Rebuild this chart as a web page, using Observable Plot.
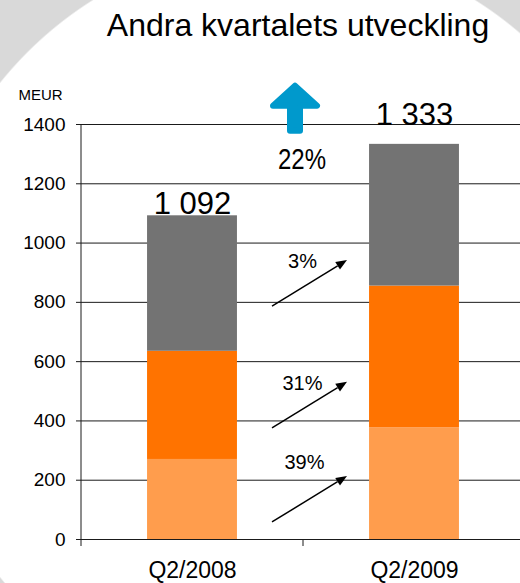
<!DOCTYPE html>
<html><head><meta charset="utf-8">
<script src="https://cdn.jsdelivr.net/npm/d3@7"></script>
<script src="https://cdn.jsdelivr.net/npm/@observablehq/plot@0.6"></script>
<style>
html,body{margin:0;padding:0;background:#fff;overflow:hidden}
#wrap{position:relative;width:520px;height:583px;overflow:hidden;
 background: radial-gradient(371px 386px at 284px 330px, #fff 99.6%, #d9d9d9 100%);
 font-family:"Liberation Sans", Arial, sans-serif;}
#title{height:50px;line-height:50px;font-size:32px;color:#000;text-align:center;padding-left:76px;box-sizing:border-box;white-space:nowrap}
#chart svg{display:block}
</style></head><body>
<div id="wrap"><div id="title">Andra kvartalets utveckling</div><div id="chart"></div></div>
<script>
// ---- data ----
const quarters = ["Q2/2008", "Q2/2009"];
const segments = ["Del 1", "Del 2", "Del 3"]; // bottom to top
const valuesQ2_2008 = [270, 365, 457];
const valuesQ2_2009 = [377, 478, 478];
const totals = [1092, 1333];
const growthLabels = ["39%", "31%", "3%"]; // per segment, bottom to top
const totalGrowthLabel = "22%";
const yTicks = [0, 200, 400, 600, 800, 1000, 1200, 1400];
const unit = "MEUR";
const colors = ["#ff9d4d", "#ff7300", "#737373"];

// ---- derived tables ----
const rows = [];
[valuesQ2_2008, valuesQ2_2009].forEach((vals, i) => {
  let acc = 0;
  vals.forEach((v, j) => {
    rows.push({quarter: quarters[i], i, segment: segments[j], y1: acc, y2: acc + v});
    acc += v;
  });
});
const fmt = v => String(v).replace(/\B(?=(\d{3})+(?!\d))/g, " ");
const totalRows = totals.map((t, i) => ({i, total: t, label: fmt(t)}));
const growthRows = growthLabels.map((g, j) => {
  const r = rows.find(d => d.i === 0 && d.segment === segments[j]);
  return {label: g, mid: (r.y1 + r.y2) / 2};
});
const halfBar = 0.2025;
const font = "Liberation Sans, Arial, sans-serif";

// decorative marks drawn through the plot's scales
function axisLines(index, {x, y}) {
  const g = d3.create("svg:g").attr("stroke", "#1a1a1a").attr("stroke-width", 1);
  const x0 = x(-0.5), yb = y(0);
  g.append("line").attr("x1", x0).attr("x2", x0).attr("y1", y(yTicks[yTicks.length - 1])).attr("y2", yb + 7);
  g.append("line").attr("x1", x(0.5)).attr("x2", x(0.5)).attr("y1", yb).attr("y2", yb + 7);
  return g.node();
}
function growthArrows(index, {x, y}) {
  const g = d3.create("svg:g");
  const gx = x(0.5);
  growthRows.forEach(r => {
    const ym = y(r.mid);
    const x1 = gx - 31, y1 = ym + 23, x2 = gx + 44, y2 = ym - 23;
    const a = Math.atan2(y2 - y1, x2 - x1);
    const L = 11, W = 4.5;
    const bx = x2 - L * Math.cos(a), by = y2 - L * Math.sin(a);
    g.append("line").attr("x1", x1).attr("y1", y1).attr("x2", bx).attr("y2", by)
      .attr("stroke", "#000").attr("stroke-width", 1.5);
    g.append("path").attr("fill", "#000")
      .attr("d", `M${x2},${y2}L${bx - W * Math.sin(a)},${by + W * Math.cos(a)}L${bx + W * Math.sin(a)},${by - W * Math.cos(a)}Z`);
  });
  return g.node();
}
function bigArrow(index, {x, y}) {
  const cx = x(0.5) - 8, t = y(yTicks[yTicks.length - 1]) - 42.3;
  const pts = [[cx, t + 4], [cx + 22, t + 24], [cx + 5, t + 24], [cx + 5, t + 49],
               [cx - 5, t + 49], [cx - 5, t + 24], [cx - 22, t + 24]];
  return d3.create("svg:path")
    .attr("d", "M" + pts.map(p => p.join(",")).join("L") + "Z")
    .attr("fill", "#0099cc").attr("stroke", "#0099cc")
    .attr("stroke-width", 6).attr("stroke-linejoin", "round").node();
}
// total growth label, horizontally condensed like the original narrow typeface
function totalGrowth(index, {x, y}) {
  const cx = x(0.5) - 1, cy = y(yTicks[yTicks.length - 1]) + 34.5;
  return d3.create("svg:text")
    .attr("transform", `translate(${cx},${cy}) scale(0.8,1)`)
    .attr("text-anchor", "middle").attr("dy", "0.35em")
    .attr("font-family", font).attr("font-size", 30).attr("fill", "#000")
    .text(totalGrowthLabel).node();
}

const chart = Plot.plot({
  width: 520, height: 533,
  marginTop: 74, marginBottom: 44, marginLeft: 81, marginRight: 0,
  style: {background: "transparent", fontFamily: font, color: "#000", overflow: "visible"},
  x: {type: "linear", domain: [-0.5, 1.5], range: [81, 525]},
  y: {domain: [0, 1400], range: [489, 74]},
  color: {domain: segments, range: colors},
  marks: [
    Plot.ruleY(yTicks, {stroke: "#1a1a1a", strokeWidth: 1}),
    axisLines,
    Plot.rect(rows, {x1: d => d.i - halfBar, x2: d => d.i + halfBar, y1: "y1", y2: "y2", fill: "segment"}),
    Plot.axisY({ticks: yTicks, tickFormat: d => String(d), tickSize: 5, tickPadding: 11, fontSize: 19, label: null, stroke: "#1a1a1a"}),
    Plot.axisX({ticks: [0, 1], tickFormat: i => quarters[i], tickSize: 0, tickPadding: 22, fontSize: 23, label: null}),
    Plot.text([unit], {frameAnchor: "top-left", dx: -63, dy: -29, textAnchor: "start", lineAnchor: "middle", fontSize: 15, fontFamily: font}),
    Plot.text(totalRows.slice(0, 1), {x: "i", y: "total", text: "label", dy: -2, lineAnchor: "bottom", fontSize: 31, fontFamily: font}),
    Plot.text(totalRows.slice(1), {x: "i", y: "total", text: "label", dy: -19, lineAnchor: "bottom", fontSize: 31, fontFamily: font}),
    growthArrows,
    Plot.text(growthRows.slice(1), {x: () => 0.5, y: "mid", text: "label", dx: -1, dy: -22, lineAnchor: "middle", fontSize: 20, fontFamily: font}),
    Plot.text(growthRows.slice(0, 1), {x: () => 0.5, y: "mid", text: "label", dx: 1, dy: -37, lineAnchor: "middle", fontSize: 20, fontFamily: font}),
    bigArrow,
    totalGrowth
  ]
});
document.getElementById("chart").appendChild(chart);
</script></body></html>
